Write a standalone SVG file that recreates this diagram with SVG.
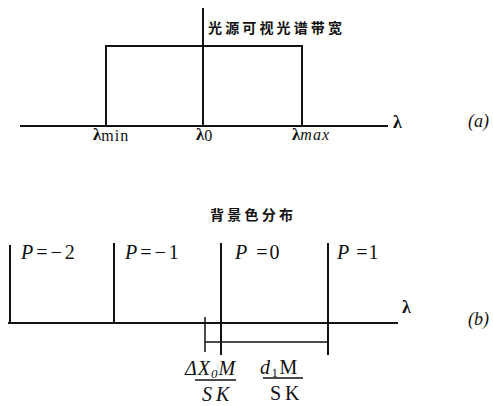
<svg xmlns="http://www.w3.org/2000/svg" width="493" height="406" viewBox="0 0 493 406">
<style>
.ln{stroke:#111;stroke-width:2;fill:none}
.dim{stroke:#111;stroke-width:1.5;fill:none}
.cjk{font-family:"Noto Sans CJK SC",sans-serif;font-weight:bold;font-size:14px;fill:#111}
.ser{font-family:"Liberation Serif","DejaVu Serif",serif;fill:#111}
.it{font-style:italic}
</style>
<rect width="493" height="406" fill="#fff"/>
<g id="connectors">
<path class="ln" d="M20,126 H388"/>
<path class="ln" d="M203,8 V126"/>
<path class="ln" d="M106,126 V46 H302 V126"/>
<path class="ln" d="M8,323 H398"/>
<path class="ln" d="M10,245 V323"/>
<path class="ln" d="M114,243 V323"/>
<path class="ln" d="M221,243 V355"/>
<path class="ln" d="M328,243 V355"/>
<path class="dim" d="M205,317 V352"/>
<path class="dim" d="M205,342 H328"/>
<path class="dim" d="M195,380 H236"/>
<path class="dim" d="M263,378 H303"/>
</g>
<g id="label-a">
<text class="cjk" x="208" y="33" textLength="134" lengthAdjust="spacing">光源可视光谱带宽</text>
<text class="ser" x="93" y="140" font-size="17"><tspan font-weight="bold">λ</tspan><tspan font-size="16" dy="1" letter-spacing="1">min</tspan></text>
<text class="ser" x="196" y="140" font-size="17"><tspan font-weight="bold">λ</tspan><tspan font-size="16" dy="1">0</tspan></text>
<text class="ser" x="292" y="140" font-size="17"><tspan font-weight="bold">λ</tspan><tspan font-size="16" class="it" letter-spacing="1">max</tspan></text>
<text class="ser" x="393" y="128" font-size="18" font-weight="bold">λ</text>
<text class="ser it" x="468" y="127" font-size="18">(a)</text>
</g>
<g id="label-b">
<text class="cjk" x="210" y="220" textLength="83" lengthAdjust="spacing">背景色分布</text>
<text class="ser" x="21" y="259" font-size="20" letter-spacing="3"><tspan class="it">P</tspan>=−2</text>
<text class="ser" x="125" y="259" font-size="20" letter-spacing="3"><tspan class="it">P</tspan>=−1</text>
<text class="ser" x="235" y="259" font-size="20" letter-spacing="2"><tspan class="it">P</tspan> =0</text>
<text class="ser" x="337" y="259" font-size="20" letter-spacing="1"><tspan class="it">P</tspan> =1</text>
<text class="ser" x="402" y="313" font-size="18" font-weight="bold">λ</text>
<text class="ser it" x="468" y="325" font-size="18">(b)</text>
<text class="ser it" x="185" y="375" font-size="20" letter-spacing="1">ΔX<tspan font-size="13" dy="3">0</tspan><tspan dy="-3">M</tspan></text>
<text class="ser it" x="202" y="401" font-size="20" letter-spacing="4">SK</text>
<text class="ser" x="260" y="374" font-size="20" letter-spacing="1.5"><tspan class="it">d</tspan><tspan font-size="13" dy="3">1</tspan><tspan dy="-3">M</tspan></text>
<text class="ser" x="270" y="400" font-size="20" letter-spacing="4">SK</text>
</g>
</svg>
